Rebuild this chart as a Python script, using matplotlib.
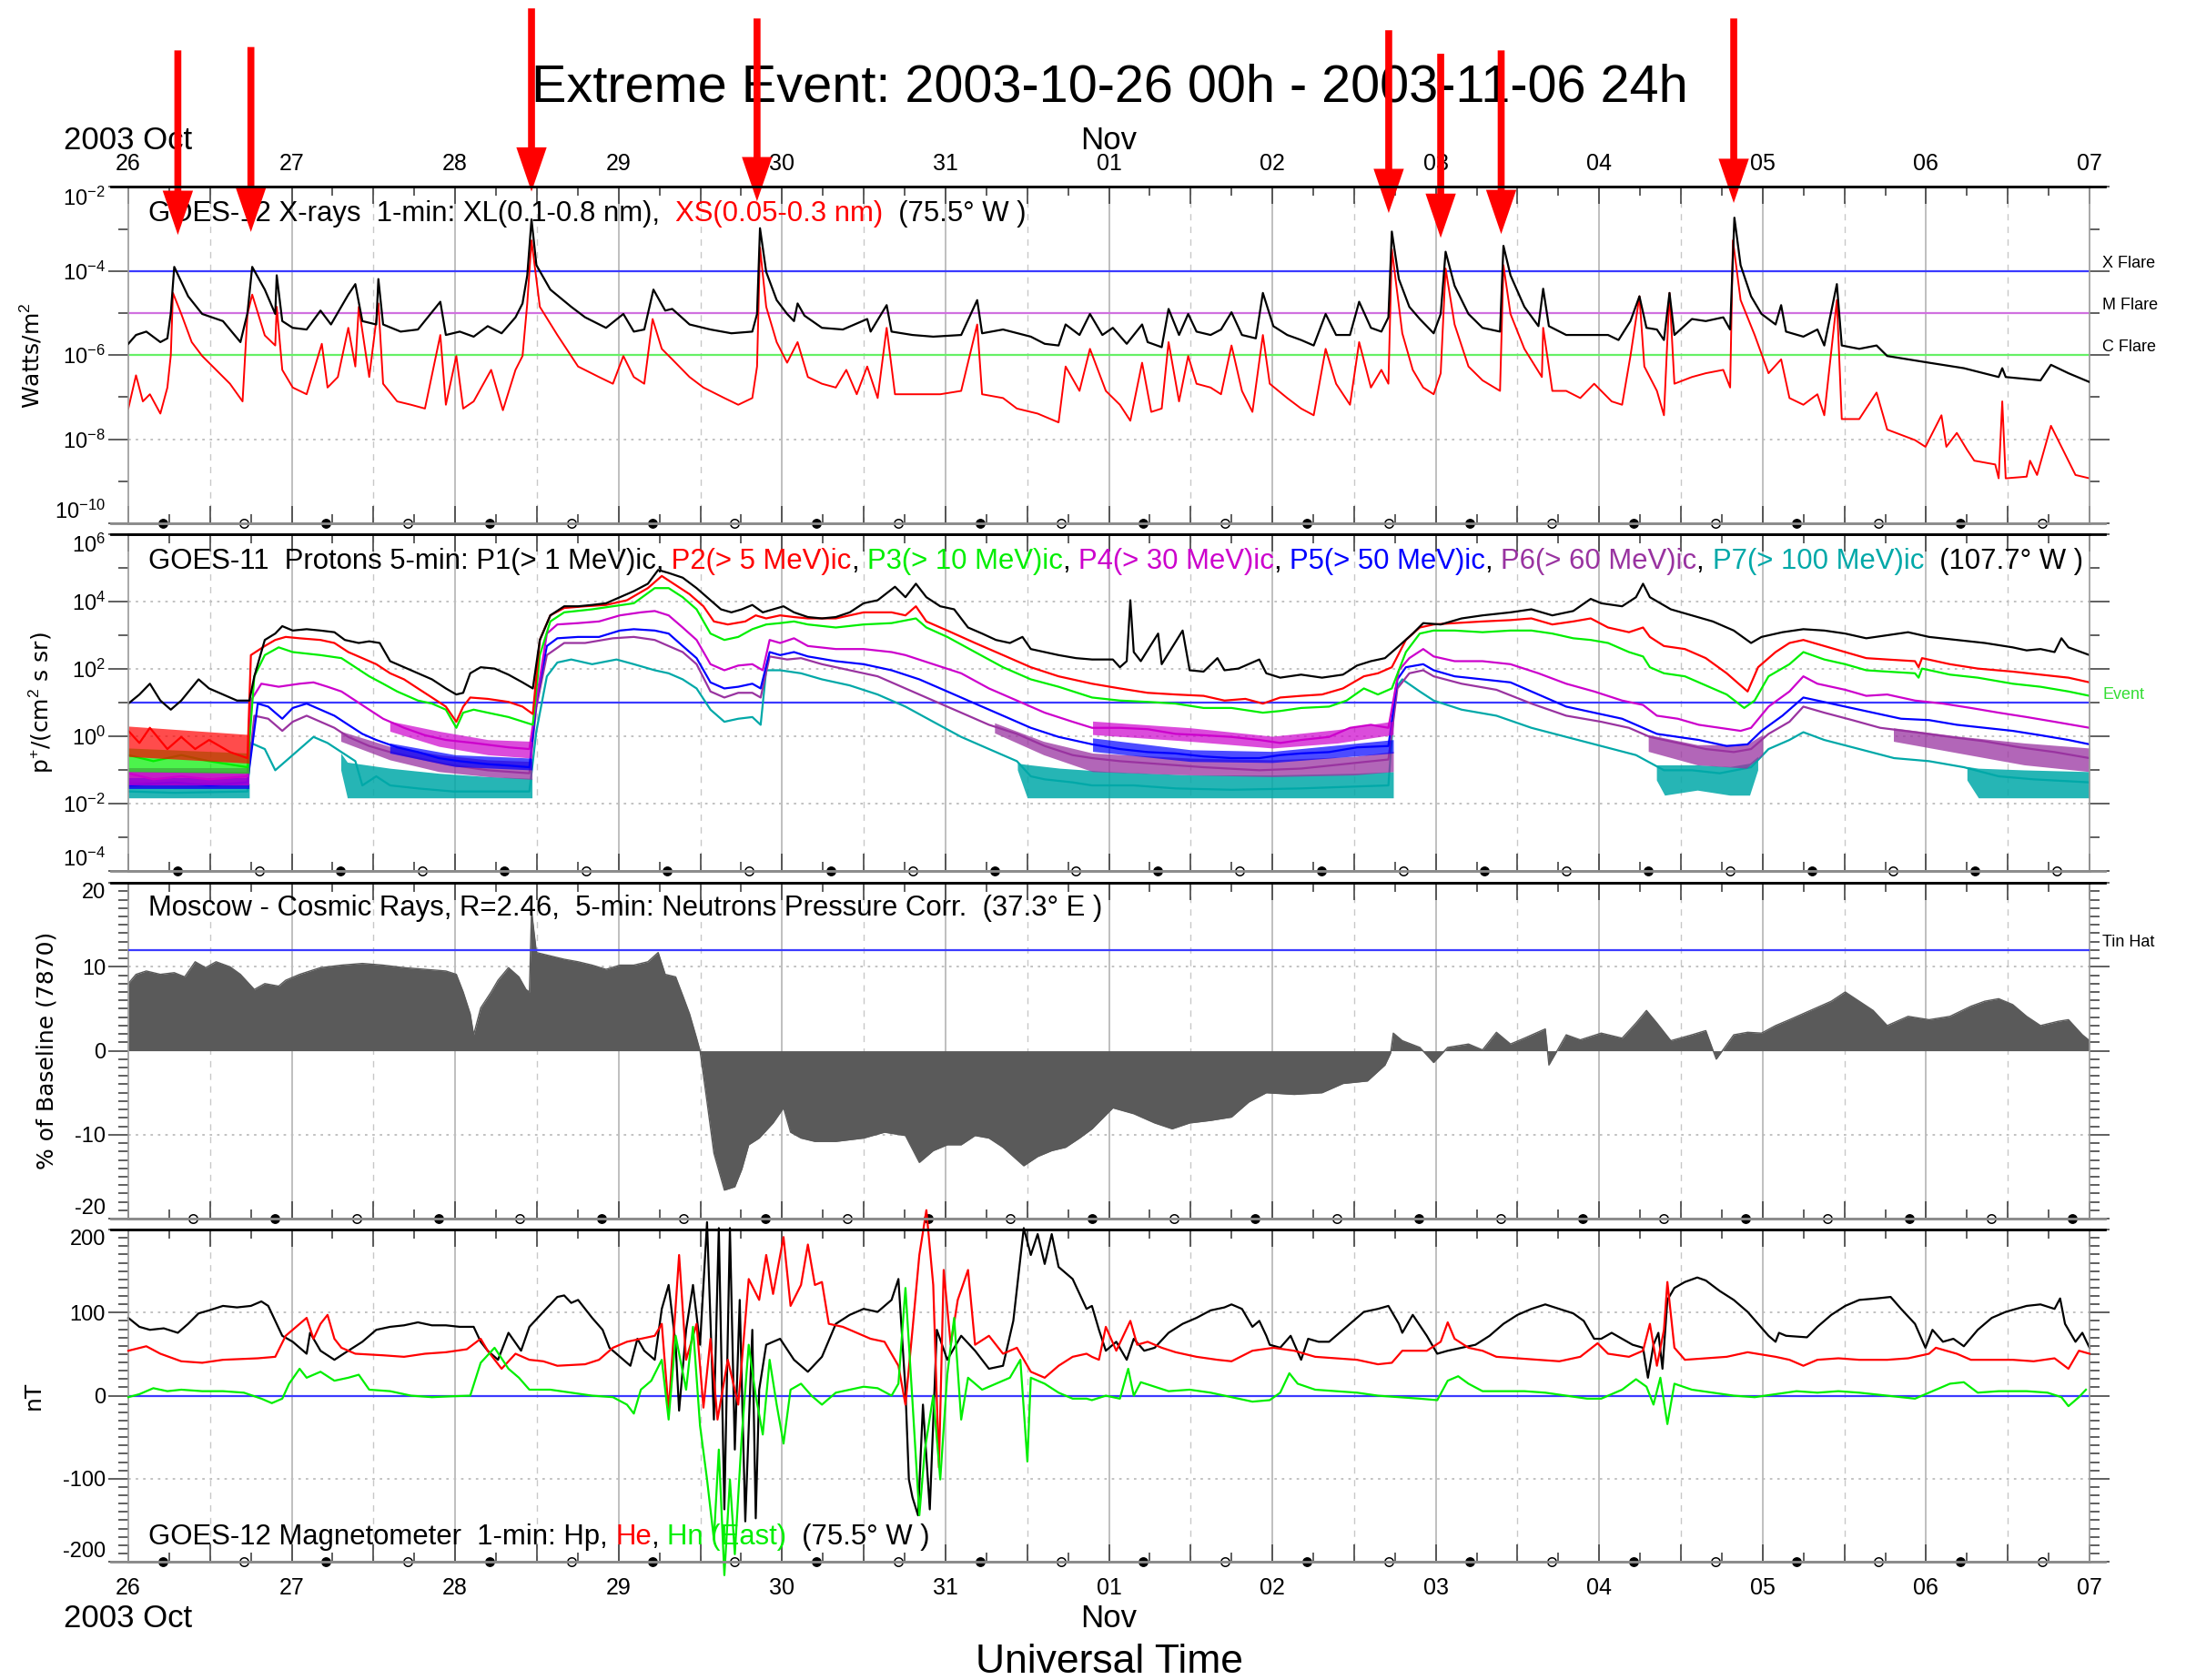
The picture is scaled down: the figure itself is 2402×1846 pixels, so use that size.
import numpy as np
import matplotlib.pyplot as plt
from matplotlib.lines import Line2D
from matplotlib.ticker import (FixedLocator, FixedFormatter, MultipleLocator,
                               NullFormatter, LogFormatterSciNotation)
from matplotlib.transforms import blended_transform_factory

plt.rcParams.update({
    'font.family': 'sans-serif',
    'font.sans-serif': ['Liberation Sans', 'DejaVu Sans'],
    'mathtext.fontset': 'custom',
    'mathtext.rm': 'Liberation Sans',
    'mathtext.it': 'Liberation Sans:italic',
    'axes.unicode_minus': False,
})

# time = days after 2003-10-26 00 UT
day_labels = ['26', '27', '28', '29', '30', '31', '01', '02', '03', '04', '05', '06', '07']

# ---------------- GOES-12 X-rays, log10(W/m^2) ----------------
xl_pts = [(0, -5.73), (0.047, -5.52), (0.11, -5.44), (0.196, -5.69), (0.239, -5.60), (0.26, -5.0),
          (0.281, -3.90), (0.366, -4.60), (0.452, -5.02), (0.579, -5.19), (0.686, -5.69), (0.729, -5.0),
          (0.758, -3.90), (0.835, -4.44), (0.899, -5.02), (0.908, -4.10), (0.942, -5.19), (1.006, -5.35),
          (1.091, -5.39), (1.176, -4.94), (1.24, -5.27), (1.346, -4.56), (1.389, -4.31), (1.432, -5.19),
          (1.517, -5.27), (1.53, -4.19), (1.559, -5.27), (1.666, -5.44), (1.772, -5.39), (1.909, -4.73),
          (1.943, -5.52), (2.028, -5.44), (2.113, -5.56), (2.199, -5.31), (2.284, -5.48), (2.369, -5.10),
          (2.412, -4.77), (2.441, -4.10), (2.467, -2.77), (2.497, -3.86), (2.582, -4.44), (2.71, -4.85),
          (2.795, -5.10), (2.923, -5.35), (3.029, -5.02), (3.093, -5.44), (3.157, -5.39), (3.213, -4.44),
          (3.285, -4.94), (3.328, -4.90), (3.434, -5.27), (3.562, -5.39), (3.69, -5.48), (3.818, -5.44),
          (3.847, -5.02), (3.865, -2.98), (3.903, -4.02), (3.967, -4.69), (4.031, -5.02), (4.073, -5.19),
          (4.095, -4.77), (4.137, -5.06), (4.244, -5.35), (4.372, -5.39), (4.521, -5.14), (4.542, -5.44),
          (4.64, -4.81), (4.67, -5.44), (4.798, -5.52), (4.925, -5.56), (5.096, -5.52), (5.194, -4.69),
          (5.224, -5.48), (5.352, -5.39), (5.522, -5.56), (5.607, -5.73), (5.692, -5.77), (5.735, -5.27),
          (5.82, -5.52), (5.884, -5.02), (5.96, -5.52), (6.024, -5.35), (6.109, -5.73), (6.203, -5.27),
          (6.237, -5.69), (6.323, -5.81), (6.365, -4.90), (6.429, -5.52), (6.485, -5.02), (6.536, -5.44),
          (6.622, -5.52), (6.686, -5.39), (6.75, -4.98), (6.814, -5.52), (6.899, -5.60), (6.942, -4.52),
          (7.006, -5.31), (7.091, -5.52), (7.176, -5.64), (7.253, -5.77), (7.326, -5.02), (7.39, -5.52),
          (7.475, -5.52), (7.531, -4.73), (7.603, -5.35), (7.667, -5.44), (7.71, -5.10), (7.731, -3.06),
          (7.774, -4.19), (7.838, -4.85), (7.902, -5.14), (7.987, -5.48), (8.03, -5.02), (8.06, -3.54),
          (8.115, -4.35), (8.2, -5.02), (8.286, -5.35), (8.393, -5.44), (8.414, -3.40), (8.457, -4.10),
          (8.542, -4.85), (8.628, -5.31), (8.657, -4.42), (8.692, -5.31), (8.798, -5.52), (8.926, -5.52),
          (9.054, -5.52), (9.118, -5.64), (9.191, -5.19), (9.246, -4.60), (9.289, -5.35), (9.353, -5.39),
          (9.396, -5.64), (9.43, -4.52), (9.46, -5.52), (9.567, -5.14), (9.652, -5.19), (9.759, -5.10),
          (9.801, -5.39), (9.827, -2.73), (9.865, -3.86), (9.929, -4.60), (9.993, -5.02), (10.079, -5.27),
          (10.113, -4.81), (10.143, -5.44), (10.249, -5.56), (10.335, -5.39), (10.377, -5.77), (10.454, -4.31),
          (10.484, -5.77), (10.591, -5.85), (10.697, -5.77), (10.762, -6.02), (11.018, -6.18), (11.231, -6.31),
          (11.444, -6.52), (11.466, -6.31), (11.487, -6.52), (11.7, -6.60), (11.764, -6.23), (11.871, -6.43),
          (12.0, -6.64)]

xs_pts = [(0, -7.27), (0.047, -6.48), (0.089, -7.10), (0.132, -6.93), (0.196, -7.39), (0.239, -6.77),
          (0.26, -6.0), (0.273, -4.52), (0.324, -5.02), (0.388, -5.69), (0.452, -6.02), (0.537, -6.35),
          (0.622, -6.68), (0.699, -7.10), (0.729, -5.02), (0.758, -4.56), (0.835, -5.53), (0.899, -5.77),
          (0.908, -4.85), (0.942, -6.35), (1.006, -6.77), (1.091, -6.93), (1.184, -5.73), (1.219, -6.77),
          (1.282, -6.52), (1.346, -5.35), (1.389, -6.27), (1.41, -4.85), (1.474, -6.52), (1.53, -4.77),
          (1.559, -6.68), (1.645, -7.10), (1.73, -7.18), (1.815, -7.27), (1.909, -5.52), (1.943, -7.18),
          (2.007, -6.02), (2.049, -7.27), (2.113, -7.10), (2.22, -6.35), (2.292, -7.31), (2.369, -6.35),
          (2.412, -6.02), (2.441, -4.77), (2.467, -3.27), (2.518, -4.85), (2.625, -5.52), (2.752, -6.27),
          (2.88, -6.52), (2.965, -6.68), (3.029, -6.02), (3.093, -6.52), (3.157, -6.68), (3.208, -5.14),
          (3.264, -5.85), (3.328, -6.10), (3.434, -6.52), (3.519, -6.77), (3.647, -7.02), (3.732, -7.18),
          (3.818, -7.02), (3.847, -6.27), (3.865, -3.44), (3.903, -4.85), (3.967, -5.69), (4.031, -6.18),
          (4.095, -5.69), (4.158, -6.52), (4.244, -6.68), (4.329, -6.77), (4.393, -6.35), (4.457, -6.93),
          (4.521, -6.27), (4.585, -7.02), (4.64, -5.35), (4.691, -6.93), (4.84, -6.93), (4.968, -6.93),
          (5.096, -6.85), (5.194, -5.27), (5.224, -6.93), (5.352, -7.02), (5.437, -7.27), (5.564, -7.39),
          (5.692, -7.60), (5.735, -6.27), (5.82, -6.85), (5.884, -5.85), (5.981, -6.85), (6.067, -7.18),
          (6.131, -7.56), (6.203, -6.18), (6.259, -7.35), (6.323, -7.27), (6.365, -5.69), (6.429, -7.10),
          (6.485, -6.02), (6.536, -6.68), (6.622, -6.77), (6.686, -6.93), (6.75, -5.77), (6.814, -6.85),
          (6.878, -7.35), (6.942, -5.52), (6.984, -6.68), (7.091, -7.02), (7.176, -7.27), (7.253, -7.43),
          (7.326, -5.85), (7.39, -6.68), (7.475, -7.18), (7.531, -5.69), (7.603, -6.77), (7.667, -6.35),
          (7.71, -6.68), (7.731, -3.48), (7.795, -5.48), (7.859, -6.35), (7.923, -6.77), (7.987, -6.93),
          (8.03, -6.43), (8.06, -3.94), (8.115, -5.27), (8.2, -6.27), (8.286, -6.60), (8.393, -6.85),
          (8.414, -3.86), (8.457, -5.02), (8.542, -5.85), (8.649, -6.52), (8.657, -5.35), (8.713, -6.85),
          (8.798, -6.85), (8.884, -7.02), (8.969, -6.68), (9.076, -7.10), (9.14, -7.18), (9.191, -6.02),
          (9.246, -4.60), (9.276, -6.27), (9.353, -6.85), (9.396, -7.43), (9.43, -4.52), (9.46, -6.68),
          (9.567, -6.52), (9.652, -6.43), (9.759, -6.35), (9.801, -6.77), (9.818, -3.27), (9.865, -4.69),
          (9.951, -5.52), (10.036, -6.43), (10.113, -6.10), (10.164, -7.02), (10.249, -7.18), (10.335, -6.93),
          (10.377, -7.43), (10.454, -4.69), (10.484, -7.52), (10.591, -7.52), (10.697, -6.89), (10.762, -7.77),
          (10.932, -8.02), (10.996, -8.18), (11.094, -7.43), (11.124, -8.18), (11.188, -7.85), (11.252, -8.26),
          (11.295, -8.51), (11.423, -8.60), (11.444, -8.93), (11.466, -7.10), (11.487, -8.93), (11.615, -8.89),
          (11.636, -8.51), (11.679, -8.85), (11.764, -7.68), (11.85, -8.35), (11.914, -8.85), (12.0, -8.93)]

flare_names = ['X Flare', 'M Flare', 'C Flare']
flare_flux = [1e-4, 1e-5, 1e-6]

# flares pointed at by the red arrows: time, log10 flux of arrow tip
arrow_t = [0.303, 0.75, 2.467, 3.847, 7.712, 8.03, 8.40, 9.823]
arrow_tip_log = [-3.14, -3.07, -2.11, -2.34, -2.62, -3.21, -3.12, -2.38]

# ---------------- GOES-11 protons, log10(p+/(cm^2 s sr)) ----------------
p1_pts = [(0, 0.97), (0.068, 1.24), (0.132, 1.56), (0.196, 1.06), (0.26, 0.79), (0.324, 1.06), (0.43, 1.69),
          (0.494, 1.42), (0.579, 1.24), (0.665, 1.06), (0.741, 1.06), (0.771, 1.78), (0.835, 2.86), (0.899, 3.05),
          (0.942, 3.27), (1.006, 3.14), (1.091, 3.18), (1.176, 3.14), (1.261, 3.09), (1.325, 2.86), (1.41, 2.77),
          (1.474, 2.82), (1.538, 2.77), (1.602, 2.23), (1.687, 2.05), (1.772, 1.87), (1.858, 1.69), (1.943, 1.42),
          (2.007, 1.24), (2.049, 1.29), (2.092, 1.87), (2.156, 2.05), (2.241, 2.01), (2.326, 1.83), (2.412, 1.60),
          (2.475, 1.42), (2.518, 2.86), (2.582, 3.59), (2.667, 3.86), (2.752, 3.86), (2.838, 3.90), (2.923, 3.95),
          (3.008, 4.13), (3.093, 4.31), (3.179, 4.53), (3.242, 4.94), (3.306, 4.85), (3.392, 4.71), (3.477, 4.40),
          (3.562, 4.04), (3.626, 3.77), (3.69, 3.68), (3.754, 3.77), (3.818, 3.90), (3.882, 3.68), (3.945, 3.77),
          (4.009, 3.86), (4.073, 3.68), (4.158, 3.54), (4.244, 3.50), (4.329, 3.54), (4.414, 3.68), (4.499, 3.95),
          (4.585, 4.04), (4.691, 4.44), (4.755, 4.13), (4.819, 4.53), (4.883, 4.13), (4.968, 3.86), (5.053, 3.77),
          (5.138, 3.23), (5.224, 3.05), (5.309, 2.86), (5.394, 2.77), (5.471, 2.95), (5.522, 2.59), (5.607, 2.50),
          (5.692, 2.41), (5.799, 2.32), (5.897, 2.28), (6.024, 2.28), (6.067, 2.05), (6.109, 2.23), (6.131, 4.04),
          (6.152, 2.50), (6.195, 2.23), (6.301, 3.05), (6.323, 2.14), (6.451, 3.14), (6.494, 1.96), (6.579, 1.92),
          (6.664, 2.32), (6.707, 1.96), (6.792, 2.01), (6.92, 2.28), (6.963, 1.87), (7.048, 1.74), (7.176, 1.83),
          (7.304, 1.74), (7.432, 1.83), (7.518, 2.10), (7.603, 2.23), (7.689, 2.32), (7.774, 2.68), (7.859, 3.05),
          (7.923, 3.36), (8.03, 3.32), (8.158, 3.50), (8.286, 3.59), (8.457, 3.68), (8.585, 3.77), (8.713, 3.59),
          (8.841, 3.72), (8.948, 4.08), (9.012, 3.95), (9.14, 3.86), (9.225, 4.13), (9.268, 4.53), (9.31, 4.13),
          (9.438, 3.77), (9.567, 3.59), (9.695, 3.41), (9.823, 3.14), (9.929, 2.77), (9.993, 2.95), (10.121, 3.09),
          (10.249, 3.18), (10.377, 3.14), (10.505, 3.05), (10.634, 2.91), (10.762, 3.0), (10.89, 3.09), (11.018, 2.95),
          (11.188, 2.86), (11.359, 2.77), (11.53, 2.64), (11.615, 2.55), (11.7, 2.59), (11.786, 2.50), (11.828, 2.91),
          (11.871, 2.64), (12.0, 2.41)]

p2_pts = [(0, 0.16), (0.068, -0.20), (0.132, 0.25), (0.239, -0.38), (0.324, -0.02), (0.409, -0.38), (0.494, -0.11),
          (0.622, -0.47), (0.729, -0.65), (0.75, 2.41), (0.835, 2.68), (0.899, 2.86), (0.963, 2.95), (1.048, 2.91),
          (1.176, 2.86), (1.261, 2.77), (1.346, 2.50), (1.432, 2.32), (1.517, 2.14), (1.602, 1.87), (1.687, 1.69),
          (1.772, 1.42), (1.858, 1.15), (1.943, 0.88), (2.007, 0.43), (2.049, 0.88), (2.092, 1.15), (2.199, 1.11),
          (2.326, 1.02), (2.412, 0.88), (2.475, 0.66), (2.518, 2.86), (2.582, 3.59), (2.667, 3.81), (2.795, 3.86),
          (2.923, 3.90), (3.051, 4.04), (3.179, 4.40), (3.264, 4.76), (3.349, 4.49), (3.434, 4.22), (3.519, 3.86),
          (3.583, 3.41), (3.668, 3.32), (3.775, 3.41), (3.839, 3.59), (3.903, 3.50), (3.988, 3.59), (4.073, 3.54),
          (4.158, 3.50), (4.329, 3.50), (4.499, 3.68), (4.67, 3.68), (4.755, 3.59), (4.819, 3.86), (4.883, 3.41),
          (5.011, 3.14), (5.181, 2.77), (5.352, 2.41), (5.522, 2.05), (5.692, 1.78), (5.897, 1.56), (6.067, 1.42),
          (6.237, 1.29), (6.408, 1.24), (6.579, 1.20), (6.707, 1.06), (6.835, 1.11), (6.942, 0.97), (7.048, 1.15),
          (7.176, 1.20), (7.304, 1.24), (7.432, 1.42), (7.56, 1.78), (7.646, 1.87), (7.731, 2.05), (7.817, 2.86),
          (7.902, 3.23), (7.987, 3.32), (8.115, 3.36), (8.286, 3.41), (8.457, 3.45), (8.585, 3.50), (8.713, 3.32),
          (8.841, 3.41), (8.948, 3.50), (9.054, 3.23), (9.182, 3.09), (9.268, 3.23), (9.31, 2.95), (9.396, 2.68),
          (9.524, 2.59), (9.652, 2.32), (9.78, 1.87), (9.865, 1.51), (9.908, 1.33), (9.972, 2.05), (10.079, 2.50),
          (10.164, 2.77), (10.249, 2.86), (10.377, 2.68), (10.505, 2.50), (10.634, 2.32), (10.762, 2.28),
          (10.932, 2.23), (10.954, 2.05), (10.975, 2.32), (11.146, 2.14), (11.316, 2.01), (11.53, 1.92),
          (11.7, 1.83), (11.871, 1.74), (12.0, 1.60)]

p3_pts = [(0, -0.56), (0.153, -0.74), (0.324, -0.56), (0.494, -0.74), (0.729, -0.92), (0.771, 1.78), (0.835, 2.41),
          (0.92, 2.64), (1.006, 2.50), (1.176, 2.41), (1.304, 2.32), (1.389, 2.05), (1.474, 1.78), (1.559, 1.56),
          (1.645, 1.33), (1.772, 1.06), (1.858, 0.97), (1.943, 0.79), (2.007, 0.25), (2.049, 0.70), (2.113, 0.79),
          (2.199, 0.70), (2.326, 0.57), (2.475, 0.34), (2.518, 2.41), (2.582, 3.41), (2.667, 3.68), (2.838, 3.77),
          (2.965, 3.86), (3.093, 3.95), (3.221, 4.40), (3.306, 4.40), (3.392, 4.13), (3.477, 3.77), (3.562, 3.05),
          (3.647, 2.86), (3.732, 2.95), (3.818, 3.18), (3.903, 3.32), (3.988, 3.36), (4.073, 3.41), (4.158, 3.32),
          (4.329, 3.23), (4.499, 3.32), (4.67, 3.36), (4.819, 3.50), (4.883, 3.23), (5.011, 2.95), (5.181, 2.50),
          (5.352, 2.05), (5.522, 1.69), (5.692, 1.47), (5.897, 1.15), (6.067, 1.06), (6.237, 1.02), (6.408, 0.97),
          (6.579, 0.84), (6.75, 0.84), (6.942, 0.70), (7.048, 0.75), (7.176, 0.84), (7.347, 0.88), (7.454, 1.06),
          (7.56, 1.42), (7.646, 1.24), (7.731, 1.42), (7.817, 2.50), (7.902, 3.05), (7.987, 3.14), (8.115, 3.14),
          (8.286, 3.09), (8.457, 3.14), (8.585, 3.14), (8.713, 3.05), (8.841, 2.91), (8.948, 2.86), (9.054, 2.77),
          (9.182, 2.50), (9.268, 2.37), (9.31, 2.05), (9.396, 1.87), (9.524, 1.78), (9.652, 1.51), (9.78, 1.24),
          (9.887, 0.84), (9.951, 1.06), (10.036, 1.78), (10.164, 2.14), (10.249, 2.50), (10.377, 2.28),
          (10.505, 2.14), (10.634, 1.96), (10.762, 1.92), (10.932, 1.87), (10.954, 1.74), (10.975, 2.01),
          (11.146, 1.83), (11.316, 1.74), (11.53, 1.56), (11.7, 1.47), (11.871, 1.33), (12.0, 1.20)]

p4_pts = [(0, -1.10), (0.153, -1.28), (0.324, -1.19), (0.494, -1.28), (0.729, -1.19), (0.75, 1.06), (0.814, 1.56),
          (0.92, 1.47), (1.048, 1.56), (1.133, 1.60), (1.219, 1.47), (1.304, 1.33), (1.389, 1.06), (1.474, 0.79),
          (1.559, 0.52), (1.687, 0.25), (1.815, 0.03), (1.943, -0.11), (2.113, -0.20), (2.326, -0.33), (2.454, -0.38),
          (2.497, 1.06), (2.561, 3.05), (2.625, 3.32), (2.752, 3.36), (2.88, 3.41), (3.008, 3.59), (3.136, 3.68),
          (3.221, 3.72), (3.306, 3.59), (3.392, 3.23), (3.477, 2.86), (3.562, 2.14), (3.647, 1.96), (3.732, 2.10),
          (3.818, 2.14), (3.882, 1.96), (3.924, 2.86), (3.988, 2.77), (4.073, 2.91), (4.158, 2.68), (4.329, 2.59),
          (4.499, 2.59), (4.67, 2.50), (4.755, 2.41), (4.925, 2.14), (5.096, 1.87), (5.266, 1.42), (5.437, 1.06),
          (5.607, 0.70), (5.778, 0.43), (5.897, 0.25), (6.067, 0.25), (6.237, 0.21), (6.408, 0.07), (6.579, 0.03),
          (6.75, -0.02), (6.92, -0.11), (7.048, -0.20), (7.176, -0.11), (7.347, -0.02), (7.475, 0.25), (7.603, 0.34),
          (7.71, 0.25), (7.774, 1.96), (7.838, 2.32), (7.923, 2.59), (7.987, 2.37), (8.115, 2.23), (8.286, 2.23),
          (8.457, 2.14), (8.628, 1.87), (8.798, 1.56), (8.969, 1.33), (9.14, 1.06), (9.268, 0.93), (9.353, 0.61),
          (9.481, 0.52), (9.609, 0.34), (9.737, 0.25), (9.865, 0.16), (9.929, 0.25), (10.036, 0.88), (10.164, 1.33),
          (10.249, 1.78), (10.335, 1.56), (10.505, 1.38), (10.634, 1.20), (10.762, 1.24), (10.932, 1.06),
          (11.103, 0.97), (11.274, 0.84), (11.444, 0.70), (11.615, 0.57), (11.786, 0.43), (12.0, 0.25)]

p5_pts = [(0, -1.46), (0.281, -1.37), (0.494, -1.46), (0.729, -1.37), (0.792, 0.97), (0.856, 0.88), (0.942, 0.52),
          (1.006, 0.84), (1.091, 0.97), (1.176, 0.79), (1.261, 0.61), (1.346, 0.34), (1.432, 0.07), (1.517, -0.11),
          (1.645, -0.33), (1.772, -0.47), (1.9, -0.65), (2.028, -0.74), (2.199, -0.83), (2.326, -0.87), (2.454, -0.92),
          (2.497, 1.06), (2.561, 2.68), (2.625, 2.91), (2.752, 2.95), (2.88, 2.95), (3.008, 3.14), (3.093, 3.18),
          (3.221, 3.14), (3.306, 3.05), (3.392, 2.68), (3.477, 2.32), (3.562, 1.60), (3.647, 1.42), (3.732, 1.47),
          (3.818, 1.56), (3.869, 1.42), (3.924, 2.50), (3.988, 2.41), (4.073, 2.50), (4.158, 2.37), (4.329, 2.23),
          (4.499, 2.14), (4.67, 1.96), (4.84, 1.69), (5.011, 1.33), (5.181, 0.97), (5.352, 0.61), (5.522, 0.25),
          (5.692, -0.02), (5.897, -0.24), (6.067, -0.38), (6.237, -0.47), (6.408, -0.51), (6.579, -0.60),
          (6.75, -0.65), (6.92, -0.65), (7.048, -0.56), (7.176, -0.51), (7.347, -0.47), (7.518, -0.33), (7.71, -0.29),
          (7.765, 1.69), (7.817, 2.05), (7.923, 2.14), (7.987, 1.96), (8.115, 1.78), (8.286, 1.69), (8.457, 1.60),
          (8.628, 1.24), (8.798, 0.88), (8.969, 0.70), (9.14, 0.52), (9.268, 0.25), (9.353, 0.07), (9.481, -0.02),
          (9.609, -0.11), (9.78, -0.29), (9.908, -0.24), (9.993, 0.16), (10.121, 0.61), (10.249, 1.15),
          (10.335, 1.06), (10.505, 0.88), (10.676, 0.70), (10.847, 0.52), (11.018, 0.48), (11.188, 0.34),
          (11.359, 0.25), (11.53, 0.16), (11.7, 0.03), (11.871, -0.11), (12.0, -0.24)]

p6_pts = [(0, -1.37), (0.324, -1.41), (0.729, -1.37), (0.771, 0.61), (0.856, 0.52), (0.942, 0.16), (1.006, 0.43),
          (1.091, 0.61), (1.176, 0.43), (1.261, 0.25), (1.346, -0.02), (1.474, -0.29), (1.602, -0.47), (1.772, -0.65),
          (1.943, -0.83), (2.199, -1.01), (2.454, -1.10), (2.497, 0.88), (2.561, 2.41), (2.667, 2.77), (2.795, 2.77),
          (2.965, 2.91), (3.093, 2.95), (3.221, 2.86), (3.306, 2.68), (3.392, 2.50), (3.477, 2.14), (3.562, 1.33),
          (3.647, 1.15), (3.732, 1.29), (3.818, 1.29), (3.869, 1.15), (3.924, 2.37), (4.031, 2.28), (4.116, 2.32),
          (4.244, 2.14), (4.414, 1.96), (4.585, 1.78), (4.755, 1.42), (4.925, 1.06), (5.096, 0.70), (5.266, 0.34),
          (5.437, 0.07), (5.607, -0.29), (5.778, -0.56), (5.897, -0.65), (6.067, -0.74), (6.323, -0.83),
          (6.579, -0.92), (6.92, -1.01), (7.176, -0.96), (7.432, -0.83), (7.71, -0.69), (7.765, 1.42), (7.838, 1.87),
          (7.923, 1.96), (7.987, 1.78), (8.158, 1.56), (8.371, 1.38), (8.585, 0.97), (8.798, 0.61), (9.012, 0.43),
          (9.182, 0.25), (9.31, -0.02), (9.481, -0.20), (9.652, -0.38), (9.823, -0.47), (9.929, -0.38),
          (10.036, 0.07), (10.164, 0.43), (10.249, 0.88), (10.377, 0.70), (10.548, 0.48), (10.719, 0.25),
          (10.932, 0.12), (11.146, -0.02), (11.359, -0.15), (11.572, -0.33), (11.786, -0.47), (12.0, -0.65)]

p7_pts = [(0, -1.64), (0.281, -1.68), (0.729, -1.64), (0.75, -0.20), (0.835, -0.38), (0.899, -1.01), (0.963, -0.74),
          (1.048, -0.38), (1.133, -0.02), (1.219, -0.20), (1.304, -0.47), (1.389, -0.74), (1.432, -1.46),
          (1.517, -1.19), (1.602, -1.46), (1.772, -1.55), (1.986, -1.64), (2.199, -1.64), (2.454, -1.64),
          (2.497, 0.16), (2.561, 1.78), (2.625, 2.19), (2.71, 2.28), (2.838, 2.14), (2.987, 2.28), (3.093, 2.14),
          (3.221, 1.96), (3.306, 1.87), (3.392, 1.69), (3.477, 1.42), (3.562, 0.79), (3.647, 0.43), (3.732, 0.52),
          (3.818, 0.57), (3.869, 0.34), (3.903, 1.96), (3.988, 1.96), (4.116, 1.87), (4.244, 1.69), (4.414, 1.51),
          (4.585, 1.24), (4.755, 0.88), (4.925, 0.43), (5.096, -0.02), (5.266, -0.38), (5.437, -0.74),
          (5.522, -1.19), (5.607, -1.28), (5.778, -1.37), (5.897, -1.46), (6.152, -1.46), (6.408, -1.55),
          (6.75, -1.59), (7.176, -1.55), (7.71, -1.46), (7.753, 1.42), (7.795, 1.69), (7.902, 1.33), (7.987, 1.06),
          (8.158, 0.79), (8.371, 0.61), (8.585, 0.25), (8.798, -0.02), (9.012, -0.29), (9.225, -0.56),
          (9.396, -1.01), (9.567, -1.01), (9.737, -1.10), (9.929, -0.92), (10.036, -0.38), (10.164, -0.11),
          (10.249, 0.12), (10.377, -0.11), (10.591, -0.38), (10.804, -0.65), (11.018, -0.74), (11.231, -0.92),
          (11.444, -1.19), (11.658, -1.28), (12.0, -1.37)]

# spread of the noisy low-count stretches: (time, log10 low, log10 high)
p1_noise = []
p2_noise = [[(0, -0.60, 0.30), (0.74, -0.80, 0.05)]]
p3_noise = [[(0, -1.05, -0.35), (0.74, -1.10, -0.50)]]
p4_noise = [[(0, -1.45, -0.95), (0.74, -1.45, -0.95)],
            [(1.6, 0.15, 0.45), (1.9, -0.30, 0.15), (2.2, -0.55, -0.10), (2.47, -0.65, -0.15)],
            [(5.9, 0.05, 0.45), (6.5, -0.15, 0.25), (7.0, -0.35, 0.0), (7.4, -0.20, 0.20), (7.74, 0.05, 0.45)]]
p5_noise = [[(0, -1.58, -1.25), (0.74, -1.58, -1.25)],
            [(1.6, -0.50, -0.20), (2.0, -0.90, -0.55), (2.47, -1.0, -0.65)],
            [(5.9, -0.45, -0.05), (6.5, -0.75, -0.40), (7.0, -0.78, -0.45), (7.74, -0.50, -0.10)]]
p6_noise = [[(0, -1.55, -1.05), (0.74, -1.55, -1.05)],
            [(1.3, -0.15, 0.15), (1.6, -0.70, -0.30), (1.9, -1.05, -0.55), (2.2, -1.20, -0.70), (2.47, -1.28, -0.75)],
            [(5.3, 0.10, 0.40), (5.6, -0.55, -0.15), (5.9, -1.05, -0.50), (6.5, -1.15, -0.65), (7.0, -1.20, -0.70),
             (7.5, -1.15, -0.60), (7.74, -1.05, -0.45)],
            [(9.3, -0.45, 0.05), (9.6, -0.85, -0.25), (9.9, -0.95, -0.25), (10.0, -0.55, 0.05)],
            [(10.8, -0.15, 0.25), (11.2, -0.50, 0.0), (11.6, -0.85, -0.20), (12.0, -1.05, -0.35)]]
p7_noise = [[(0, -1.83, -1.38), (0.74, -1.83, -1.40)],
            [(1.3, -1.0, -0.5), (1.34, -1.83, -0.77), (1.6, -1.83, -0.95), (1.9, -1.83, -1.10), (2.2, -1.83, -1.20),
             (2.47, -1.83, -1.25)],
            [(5.44, -1.0, -0.8), (5.5, -1.83, -0.84), (5.7, -1.83, -0.95), (6.0, -1.83, -1.05), (6.5, -1.83, -1.15),
             (7.0, -1.83, -1.15), (7.5, -1.83, -1.10), (7.74, -1.83, -1.05)],
            [(9.35, -1.30, -0.85), (9.4, -1.75, -0.85), (9.6, -1.60, -0.85), (9.8, -1.75, -0.90), (9.92, -1.75, -0.80),
             (9.97, -1.00, -0.60)],
            [(11.25, -1.30, -0.90), (11.32, -1.83, -0.95), (11.6, -1.83, -1.00), (12.0, -1.83, -1.05)]]

proton_colors = ['black', '#ff0000', '#00ee00', '#cc00cc', '#0000ff', '#9933a0', '#00a8a8']
noise_alpha = [0.6, 0.7, 0.7, 0.7, 0.7, 0.75, 0.85]
event_level = 10.0

# ---------------- Moscow neutron monitor, % of baseline ----------------
cr_pts = [(0, 8.0), (0.047, 9.1), (0.11, 9.5), (0.196, 9.1), (0.281, 9.3), (0.345, 8.8), (0.409, 10.6),
          (0.473, 9.9), (0.537, 10.6), (0.622, 10.0), (0.686, 9.1), (0.771, 7.3), (0.835, 8.0), (0.92, 7.7),
          (0.963, 8.4), (1.048, 9.1), (1.176, 9.9), (1.304, 10.2), (1.432, 10.4), (1.559, 10.2), (1.687, 9.9),
          (1.815, 9.7), (1.943, 9.5), (2.007, 9.1), (2.049, 7.0), (2.092, 4.4), (2.113, 1.9), (2.156, 5.1),
          (2.22, 7.0), (2.262, 8.4), (2.326, 9.9), (2.39, 8.8), (2.433, 7.3), (2.454, 7.0), (2.467, 16.7),
          (2.497, 11.7), (2.582, 11.3), (2.667, 10.9), (2.752, 10.6), (2.838, 10.2), (2.923, 9.7), (3.008, 10.2),
          (3.093, 10.2), (3.179, 10.6), (3.242, 11.7), (3.285, 9.1), (3.349, 8.8), (3.392, 6.6), (3.434, 4.4),
          (3.477, 1.5), (3.498, 0.0), (3.541, -6.1), (3.583, -12.2), (3.647, -16.6), (3.711, -16.2),
          (3.754, -14.1), (3.796, -11.2), (3.86, -10.4), (3.945, -8.6), (4.009, -6.8), (4.052, -9.7),
          (4.116, -10.4), (4.201, -10.8), (4.329, -10.8), (4.499, -10.4), (4.627, -9.7), (4.755, -10.1),
          (4.84, -13.3), (4.925, -11.9), (5.011, -11.2), (5.096, -11.2), (5.181, -10.1), (5.266, -10.4),
          (5.352, -11.5), (5.479, -13.7), (5.564, -12.6), (5.65, -11.9), (5.735, -11.5), (5.82, -10.4),
          (5.897, -9.3), (6.024, -6.8), (6.152, -7.5), (6.28, -8.6), (6.387, -9.3), (6.494, -8.6), (6.622, -8.3),
          (6.75, -7.9), (6.856, -6.1), (6.963, -5.0), (7.134, -5.2), (7.304, -5.0), (7.432, -3.9), (7.582, -3.6),
          (7.689, -1.7), (7.723, -0.3), (7.74, 2.1), (7.795, 1.2), (7.902, 0.4), (7.987, -1.4), (8.073, 0.4),
          (8.2, 0.8), (8.286, 0.1), (8.371, 2.2), (8.457, 0.8), (8.542, 1.5), (8.67, 2.6), (8.692, -1.7),
          (8.798, 1.9), (8.884, 1.3), (9.012, 2.1), (9.14, 1.5), (9.225, 3.3), (9.289, 4.8), (9.353, 3.3),
          (9.438, 1.2), (9.567, 1.9), (9.652, 2.4), (9.716, -1.0), (9.823, 1.9), (9.908, 2.2), (9.993, 2.1),
          (10.079, 3.0), (10.164, 3.7), (10.292, 4.8), (10.42, 5.9), (10.505, 7.0), (10.591, 5.9), (10.676, 4.8),
          (10.762, 3.0), (10.89, 4.1), (11.018, 3.7), (11.146, 4.1), (11.274, 5.3), (11.359, 5.9), (11.444, 6.2),
          (11.53, 5.5), (11.615, 4.1), (11.7, 3.0), (11.807, 3.5), (11.871, 3.7), (11.956, 1.9), (12.0, 1.2)]
tin_hat = 12.0

# ---------------- GOES-12 magnetometer, nT ----------------
hp_pts = [(0, 93.7), (0.068, 82.9), (0.132, 79.3), (0.217, 81.1), (0.303, 75.7), (0.366, 86.5), (0.43, 99.1),
          (0.494, 102.7), (0.579, 108.1), (0.665, 106.3), (0.75, 108.1), (0.814, 113.5), (0.856, 108.1),
          (0.899, 90.1), (0.942, 72.1), (1.006, 64.9), (1.091, 50.5), (1.112, 75.7), (1.176, 54.1), (1.261, 43.2),
          (1.346, 54.1), (1.432, 64.9), (1.517, 79.3), (1.602, 82.9), (1.687, 84.7), (1.772, 88.3), (1.858, 84.7),
          (1.943, 84.7), (2.028, 82.9), (2.113, 82.9), (2.156, 64.9), (2.199, 54.1), (2.262, 43.2), (2.326, 75.7),
          (2.403, 54.1), (2.454, 82.9), (2.539, 100.9), (2.625, 118.9), (2.667, 120.7), (2.71, 111.7),
          (2.752, 115.3), (2.838, 93.7), (2.902, 79.3), (2.944, 57.7), (3.008, 46.8), (3.072, 36.0), (3.115, 68.5),
          (3.157, 54.1), (3.221, 43.2), (3.264, 104.5), (3.306, 133.3), (3.349, 61.3), (3.37, -18.0), (3.413, 79.3),
          (3.455, 133.3), (3.498, 61.3), (3.541, 209.0), (3.583, -28.8), (3.613, 201.8), (3.647, -136.9),
          (3.681, 201.8), (3.711, -64.9), (3.741, 115.3), (3.775, -151.4), (3.818, 79.3), (3.839, -147.7),
          (3.86, 7.2), (3.903, 61.3), (3.988, 68.5), (4.073, 43.2), (4.158, 28.8), (4.244, 46.8), (4.329, 86.5),
          (4.414, 97.3), (4.499, 104.5), (4.585, 100.9), (4.67, 115.3), (4.712, 140.5), (4.755, 7.2),
          (4.776, -100.9), (4.798, -122.5), (4.832, -144.1), (4.862, -10.8), (4.904, -136.9), (4.947, 79.3),
          (5.011, 43.2), (5.096, 72.1), (5.181, 54.1), (5.266, 32.4), (5.352, 36.0), (5.415, 90.1), (5.479, 201.8),
          (5.522, 169.4), (5.564, 194.6), (5.607, 158.6), (5.65, 194.6), (5.692, 155.0), (5.778, 140.5),
          (5.863, 104.5), (5.896, 108.1), (5.939, 79.3), (5.981, 54.1), (6.045, 64.9), (6.109, 43.2), (6.152, 68.5),
          (6.216, 54.1), (6.28, 57.7), (6.365, 75.7), (6.451, 86.5), (6.536, 93.7), (6.622, 102.7), (6.707, 106.3),
          (6.75, 109.9), (6.814, 104.5), (6.878, 82.9), (6.92, 90.1), (6.963, 72.1), (6.984, 61.3), (7.048, 57.7),
          (7.112, 72.1), (7.176, 43.2), (7.219, 68.5), (7.283, 64.9), (7.347, 64.9), (7.411, 75.7), (7.475, 86.5),
          (7.56, 100.9), (7.646, 104.5), (7.71, 108.1), (7.774, 86.5), (7.795, 75.7), (7.859, 97.3), (7.945, 72.1),
          (8.009, 50.5), (8.073, 54.1), (8.158, 57.7), (8.243, 61.3), (8.329, 72.1), (8.414, 86.5), (8.5, 97.3),
          (8.585, 104.5), (8.67, 109.9), (8.756, 104.5), (8.841, 99.1), (8.905, 90.1), (8.969, 68.5),
          (9.012, 68.5), (9.076, 75.7), (9.14, 68.5), (9.204, 61.3), (9.268, 57.7), (9.298, 21.6), (9.332, 61.3),
          (9.362, 75.7), (9.387, 32.4), (9.417, 115.3), (9.46, 129.7), (9.524, 136.9), (9.6, 142.3),
          (9.652, 138.7), (9.737, 126.1), (9.823, 115.3), (9.908, 100.9), (9.972, 86.5), (10.036, 72.1),
          (10.079, 64.9), (10.1, 75.7), (10.143, 72.1), (10.271, 70.3), (10.335, 82.9), (10.42, 97.3),
          (10.505, 108.1), (10.591, 115.3), (10.697, 117.1), (10.783, 118.9), (10.847, 104.5), (10.932, 86.5),
          (10.996, 57.7), (11.039, 79.3), (11.103, 64.9), (11.167, 68.5), (11.231, 59.5), (11.316, 79.3),
          (11.402, 93.7), (11.487, 100.9), (11.615, 108.1), (11.7, 109.9), (11.786, 104.5), (11.82, 117.1),
          (11.85, 86.5), (11.914, 64.9), (11.956, 75.7), (12.0, 57.7)]

he_pts = [(0, 54.1), (0.11, 59.5), (0.196, 50.5), (0.324, 41.4), (0.452, 39.6), (0.579, 43.2), (0.792, 45.0),
          (0.899, 46.8), (0.963, 72.1), (1.048, 86.5), (1.091, 93.7), (1.133, 68.5), (1.176, 86.5), (1.219, 97.3),
          (1.261, 68.5), (1.304, 57.7), (1.389, 50.5), (1.559, 48.6), (1.687, 46.8), (1.815, 50.5), (1.943, 52.3),
          (2.071, 55.9), (2.156, 68.5), (2.199, 54.1), (2.284, 32.4), (2.369, 50.5), (2.454, 43.2), (2.539, 41.4),
          (2.625, 36.0), (2.795, 37.8), (2.88, 43.2), (2.965, 57.7), (3.051, 64.9), (3.136, 68.5), (3.221, 72.1),
          (3.264, 86.5), (3.306, -18.0), (3.37, 169.4), (3.413, 43.2), (3.477, 86.5), (3.519, -14.4), (3.562, 68.5),
          (3.605, -28.8), (3.668, 43.2), (3.732, -10.8), (3.796, 140.5), (3.86, 115.3), (3.903, 169.4),
          (3.945, 122.5), (4.009, 191.0), (4.052, 108.1), (4.116, 133.3), (4.158, 182.0), (4.201, 133.3),
          (4.244, 136.9), (4.286, 86.5), (4.372, 82.9), (4.457, 75.7), (4.542, 68.5), (4.627, 64.9), (4.712, 36.0),
          (4.755, -10.8), (4.798, 79.3), (4.84, 169.4), (4.883, 223.4), (4.925, 133.3), (4.96, -86.5),
          (4.989, 151.4), (5.032, 61.3), (5.075, 115.3), (5.138, 151.4), (5.181, 61.3), (5.266, 72.1),
          (5.352, 50.5), (5.437, 57.7), (5.522, 28.8), (5.607, 21.6), (5.692, 36.0), (5.778, 46.8), (5.863, 50.5),
          (5.896, 46.8), (5.939, 43.2), (5.981, 82.9), (6.045, 54.1), (6.131, 90.1), (6.173, 61.3), (6.237, 64.9),
          (6.323, 57.7), (6.408, 52.3), (6.536, 46.8), (6.664, 43.2), (6.75, 41.4), (6.878, 54.1), (7.006, 57.7),
          (7.134, 54.1), (7.262, 46.8), (7.39, 45.0), (7.518, 43.2), (7.646, 37.8), (7.731, 39.6), (7.795, 54.1),
          (7.945, 54.1), (8.03, 64.9), (8.073, 88.3), (8.115, 68.5), (8.2, 57.7), (8.286, 54.1), (8.371, 46.8),
          (8.5, 45.0), (8.628, 43.2), (8.756, 41.4), (8.884, 46.8), (8.99, 63.1), (9.054, 50.5), (9.182, 46.8),
          (9.268, 54.1), (9.31, 86.5), (9.353, 36.0), (9.396, 79.3), (9.417, 136.9), (9.46, 57.7), (9.524, 43.2),
          (9.652, 45.0), (9.78, 46.8), (9.908, 52.3), (10.079, 46.8), (10.164, 43.2), (10.249, 36.0),
          (10.335, 43.2), (10.463, 45.0), (10.591, 43.2), (10.762, 43.2), (10.89, 45.0), (11.018, 50.5),
          (11.06, 57.7), (11.188, 50.5), (11.274, 43.2), (11.402, 43.2), (11.53, 43.2), (11.658, 41.4),
          (11.786, 45.0), (11.871, 32.4), (11.935, 54.1), (12.0, 50.5)]

hn_pts = [(0, -1.8), (0.068, 1.8), (0.153, 9.0), (0.239, 5.4), (0.324, 7.2), (0.452, 5.4), (0.579, 5.4),
          (0.707, 3.6), (0.814, -3.6), (0.878, -9.0), (0.942, -3.6), (0.984, 14.4), (1.048, 32.4), (1.091, 21.6),
          (1.176, 28.8), (1.261, 18.0), (1.346, 21.6), (1.41, 25.2), (1.474, 7.2), (1.602, 5.4), (1.73, 0.0),
          (1.858, -1.8), (1.986, -0.7), (2.092, 0.0), (2.156, 39.6), (2.241, 57.7), (2.326, 32.4), (2.39, 21.6),
          (2.454, 7.2), (2.582, 7.2), (2.71, 3.6), (2.838, 0.0), (2.965, -1.8), (3.051, -10.8), (3.093, -21.6),
          (3.136, 7.2), (3.2, 18.0), (3.264, 43.2), (3.306, -28.8), (3.349, 72.1), (3.413, 7.2), (3.455, 82.9),
          (3.498, -36.0), (3.541, -100.9), (3.583, -173.0), (3.613, -64.9), (3.647, -216.2), (3.681, -100.9),
          (3.711, -191.0), (3.754, -46.8), (3.796, 61.3), (3.839, 0.0), (3.882, -46.8), (3.924, 43.2),
          (3.967, -10.8), (4.009, -57.7), (4.052, 7.2), (4.116, 14.4), (4.18, 0.0), (4.244, -10.8), (4.329, 3.6),
          (4.414, 7.2), (4.499, 10.8), (4.585, 9.0), (4.67, 0.0), (4.712, 14.4), (4.755, 129.7), (4.798, -7.2),
          (4.84, -144.1), (4.874, -64.9), (4.925, 0.0), (4.968, -100.9), (5.011, 25.2), (5.053, 93.7),
          (5.096, -28.8), (5.138, 21.6), (5.224, 7.2), (5.309, 14.4), (5.394, 21.6), (5.458, 43.2), (5.501, -79.3),
          (5.522, 21.6), (5.607, 14.4), (5.692, 3.6), (5.778, -3.6), (5.863, -3.6), (5.896, -5.4), (5.981, 0.0),
          (6.067, -3.6), (6.118, 32.4), (6.152, 0.0), (6.195, 16.2), (6.28, 10.8), (6.365, 5.4), (6.494, 7.2),
          (6.622, 3.6), (6.75, -1.8), (6.878, -7.2), (6.984, -5.4), (7.048, 3.6), (7.104, 27.0), (7.155, 14.4),
          (7.262, 7.2), (7.39, 5.4), (7.518, 3.6), (7.646, 0.0), (7.774, -1.8), (7.902, -3.6), (8.009, -5.4),
          (8.073, 18.0), (8.137, 23.4), (8.2, 14.4), (8.286, 5.4), (8.414, 5.4), (8.542, 5.4), (8.67, 3.6),
          (8.798, 0.0), (8.926, -3.6), (9.012, -3.6), (9.14, 7.2), (9.225, 19.8), (9.289, 10.8), (9.332, -10.8),
          (9.374, 21.6), (9.417, -34.2), (9.46, 14.4), (9.567, 7.2), (9.695, 3.6), (9.823, 0.0), (9.951, -1.8),
          (10.079, 1.8), (10.207, 5.4), (10.335, 3.6), (10.463, 5.4), (10.591, 3.6), (10.762, 0.0), (10.932, -3.6),
          (11.018, 3.6), (11.146, 14.4), (11.231, 16.2), (11.316, 3.6), (11.444, 5.4), (11.615, 5.4),
          (11.743, 3.6), (11.828, -1.8), (11.871, -12.6), (11.935, -1.8), (11.978, 7.2)]

# observing sites (east longitude) used for local midnight / noon markers
lon_goes12 = -75.5
lon_goes11 = -107.7
lon_moscow = 37.3


def split(pts):
    a = np.array(pts, dtype=float)
    return a[:, 0], a[:, 1]


fig = plt.figure(figsize=(24.02, 18.46), dpi=100)
L, W = 141 / 2402, 2155 / 2402
ax1 = fig.add_axes([L, 0.6885, W, 0.2002])
ax2 = fig.add_axes([L, 0.4816, W, 0.2004])
ax3 = fig.add_axes([L, 0.2746, W, 0.1999])
ax4 = fig.add_axes([L, 0.0704, W, 0.1977])
axes = [ax1, ax2, ax3, ax4]

blue = '#3a3aff'
head_size = 22.4

# day ticks carry labels, half-day ticks are long but unlabelled
half_day_ticks = np.arange(0, 12.01, 0.5)
half_day_labels = [day_labels[int(d)] if d == int(d) else '' for d in half_day_ticks]


def frame(ax):
    ax.set_xlim(0, 12)
    ax.xaxis.set_major_locator(FixedLocator(half_day_ticks))
    ax.xaxis.set_major_formatter(FixedFormatter(half_day_labels))
    ax.xaxis.set_minor_locator(MultipleLocator(0.25))
    ax.tick_params(axis='x', which='major', direction='in', top=True, bottom=True, length=14,
                   width=1.2, color='#444444', labelbottom=False, labelsize=18)
    ax.tick_params(axis='x', which='minor', direction='in', top=True, bottom=True, length=7,
                   width=1.2, color='#444444')
    ax.tick_params(axis='y', which='major', direction='out', left=True, right=True, length=16,
                   width=1.2, color='#444444', labelsize=17, pad=2)
    ax.tick_params(axis='y', which='minor', direction='out', left=True, right=True, length=8,
                   width=1.2, color='#444444')
    for d in range(1, 12):
        ax.axvline(d, color='#b4b4b4', lw=1.2, zorder=0.5)
    for d in np.arange(0.5, 12, 1.0):
        ax.axvline(d, color='#c8c8c8', lw=1.0, ls=(0, (5, 5)), zorder=0.5)
    ax.spines['top'].set(color='black', lw=2)
    ax.spines['bottom'].set(color='#8c8c8c', lw=2)
    ax.spines['left'].set(color='#9a9a9a', lw=1.2)
    ax.spines['right'].set(color='#9a9a9a', lw=1.2)


def nudge_end_labels(ax):
    # the end labels sit just inside the panel, as in the original layout
    labels = ax.yaxis.get_majorticklabels()
    labels[0].set_va('bottom')
    labels[-1].set_va('top')


def hgrid(ax, levels):
    for v in levels:
        ax.axhline(v, color='#bdbdbd', lw=1.3, ls=(0, (1.5, 3)), zorder=0.5)


def local_time_marks(ax, lon):
    midnight = ((-lon / 15.0) % 24.0) / 24.0
    nights = np.arange(midnight, 12.0, 1.0)
    noons = np.arange((midnight + 0.5) % 1.0, 12.0, 1.0)
    tr = ax.get_xaxis_transform()
    ax.plot(nights, np.zeros_like(nights), 'o', ms=6.8, mfc='black', mec='black', transform=tr,
            clip_on=False, zorder=6)
    ax.plot(noons, np.zeros_like(noons), 'o', ms=6.8, mfc='white', mec='black', mew=1.1, transform=tr,
            clip_on=False, zorder=6)


def color_text(ax, x, y, pieces, size=head_size):
    t = ax.text(x, y, pieces[0][0], color=pieces[0][1], transform=ax.transAxes, fontsize=size,
                va='center', ha='left', zorder=7)
    for s, c in pieces[1:]:
        t = ax.annotate(s, xy=(1, 0), xycoords=t, xytext=(0, 0), textcoords='offset points',
                        color=c, fontsize=size, va='bottom', ha='left', zorder=7)
    return t


def ylab(ax, text, xpos):
    ax.set_ylabel(text, fontsize=18, family='DejaVu Sans')
    ax.yaxis.set_label_coords(xpos, 0.5)


for ax in axes:
    frame(ax)

# ---------- panel 1: X-rays ----------
ax1.set_yscale('log')
ax1.set_ylim(1e-10, 1e-2)
ax1.yaxis.set_major_locator(FixedLocator([1e-10, 1e-8, 1e-6, 1e-4, 1e-2]))
ax1.yaxis.set_minor_locator(FixedLocator([1e-9, 1e-7, 1e-5, 1e-3]))
ax1.yaxis.set_major_formatter(LogFormatterSciNotation())
ax1.yaxis.set_minor_formatter(NullFormatter())
hgrid(ax1, [1e-8])
for name, f, c in zip(flare_names, flare_flux, [blue, '#d070e0', '#66f066']):
    ax1.axhline(f, color=c, lw=1.6, zorder=1)
    ax1.text(1.0065, f, name, transform=ax1.get_yaxis_transform(), fontsize=13, va='bottom', ha='left')
t, v = split(xs_pts)
ax1.plot(t, 10 ** v, color='#ff0000', lw=1.4, zorder=2)
t, v = split(xl_pts)
ax1.plot(t, 10 ** v, color='black', lw=1.6, zorder=3)
ylab(ax1, r'Watts/m$^2$', -0.043)
local_time_marks(ax1, lon_goes12)
color_text(ax1, 0.0102, 0.92, [('GOES-12 X-rays  1-min: XL(0.1-0.8 nm),  ', 'black'),
                               ('XS(0.05-0.3 nm)', '#ff0000'), ('  (75.5° W )', 'black')])
ax1.tick_params(axis='x', labeltop=True, pad=10)

# ---------- panel 2: protons ----------
ax2.set_yscale('log')
ax2.set_ylim(1e-4, 1e6)
ax2.yaxis.set_major_locator(FixedLocator([1e-4, 1e-2, 1e0, 1e2, 1e4, 1e6]))
ax2.yaxis.set_minor_locator(FixedLocator([1e-3, 1e-1, 1e1, 1e3, 1e5]))
ax2.yaxis.set_major_formatter(LogFormatterSciNotation())
ax2.yaxis.set_minor_formatter(NullFormatter())
hgrid(ax2, [1e-2, 1e0, 1e2, 1e4])
ax2.axhline(event_level, color=blue, lw=1.6, zorder=1)
ax2.text(1.0065, event_level, 'Event', transform=ax2.get_yaxis_transform(), fontsize=13,
         color='#33dd33', va='bottom', ha='left')
series = [p1_pts, p2_pts, p3_pts, p4_pts, p5_pts, p6_pts, p7_pts]
noise = [p1_noise, p2_noise, p3_noise, p4_noise, p5_noise, p6_noise, p7_noise]
for k in range(len(series) - 1, -1, -1):
    z = 2 + (7 - k) * 0.02
    for seg in noise[k]:
        a = np.array(seg, dtype=float)
        ax2.fill_between(a[:, 0], 10 ** a[:, 1], 10 ** a[:, 2], color=proton_colors[k], lw=0,
                         alpha=noise_alpha[k], zorder=z)
    t, v = split(series[k])
    ax2.plot(t, 10 ** v, color=proton_colors[k], lw=1.6, zorder=z + 0.01)
ylab(ax2, r'p$^{+}$/(cm$^2$ s sr)', -0.037)
local_time_marks(ax2, lon_goes11)
color_text(ax2, 0.0102, 0.92, [('GOES-11  Protons 5-min: P1(> 1 MeV)ic,', 'black'),
                               (' P2(> 5 MeV)ic', proton_colors[1]), (', ', 'black'),
                               ('P3(> 10 MeV)ic', proton_colors[2]), (', ', 'black'),
                               ('P4(> 30 MeV)ic', proton_colors[3]), (', ', 'black'),
                               ('P5(> 50 MeV)ic', proton_colors[4]), (', ', 'black'),
                               ('P6(> 60 MeV)ic', proton_colors[5]), (', ', 'black'),
                               ('P7(> 100 MeV)ic', proton_colors[6]), ('  (107.7° W )', 'black')])

# ---------- panel 3: cosmic rays ----------
ax3.set_ylim(-20, 20)
ax3.yaxis.set_major_locator(FixedLocator([-20, -10, 0, 10, 20]))
ax3.yaxis.set_minor_locator(MultipleLocator(1))
hgrid(ax3, [-10, 10])
t, v = split(cr_pts)
ax3.fill_between(t, 0, v, color='#5a5a5a', lw=0, zorder=2)
ax3.plot(t, v, color='#5a5a5a', lw=1.0, zorder=2)
ax3.axhline(tin_hat, color=blue, lw=1.6, zorder=3)
ax3.text(1.0065, tin_hat, 'Tin Hat', transform=ax3.get_yaxis_transform(), fontsize=13,
         va='bottom', ha='left')
ylab(ax3, '% of Baseline (7870)', -0.036)
local_time_marks(ax3, lon_moscow)
color_text(ax3, 0.0102, 0.924, [('Moscow - Cosmic Rays, R=2.46,  5-min: Neutrons Pressure Corr.  (37.3° E )',
                                 'black')])

# ---------- panel 4: magnetometer ----------
ax4.set_ylim(-200, 200)
ax4.yaxis.set_major_locator(FixedLocator([-200, -100, 0, 100, 200]))
ax4.yaxis.set_minor_locator(MultipleLocator(10))
hgrid(ax4, [-100, 100])
ax4.axhline(0, color=blue, lw=1.6, zorder=1)
for pts, c, z in [(hp_pts, 'black', 2), (he_pts, '#ff0000', 3), (hn_pts, '#00ee00', 4)]:
    t, v = split(pts)
    ax4.plot(t, v, color=c, lw=1.6, zorder=z, clip_on=False)
ylab(ax4, 'nT', -0.043)
local_time_marks(ax4, lon_goes12)
color_text(ax4, 0.0102, 0.075, [('GOES-12 Magnetometer  1-min: Hp, ', 'black'), ('He', '#ff0000'),
                                (', ', 'black'), ('Hn (East)', '#00ee00'), ('  (75.5° W )', 'black')])
ax4.tick_params(axis='x', labelbottom=True, pad=12)

for ax in axes:
    nudge_end_labels(ax)

# panel frame lines that run past the spines
for ax in axes:
    pos = ax.get_position()
    fig.add_artist(Line2D([122 / 2402, 2313 / 2402], [pos.y1, pos.y1], transform=fig.transFigure,
                          color='black', lw=2))
    fig.add_artist(Line2D([122 / 2402, 2313 / 2402], [pos.y0, pos.y0], transform=fig.transFigure,
                          color='#8c8c8c', lw=2))

# month labels, title and axis title
top_tr = blended_transform_factory(ax1.transData, fig.transFigure)
bot_tr = blended_transform_factory(ax4.transData, fig.transFigure)
ax1.text(0, 1 - 154 / 1846, '2003 Oct', transform=top_tr, fontsize=25, ha='center', va='center')
ax1.text(6, 1 - 154 / 1846, 'Nov', transform=top_tr, fontsize=25, ha='center', va='center')
ax4.text(0, 1 - 1778 / 1846, '2003 Oct', transform=bot_tr, fontsize=25, ha='center', va='center')
ax4.text(6, 1 - 1778 / 1846, 'Nov', transform=bot_tr, fontsize=25, ha='center', va='center')
fig.text(1219 / 2402, 1 - 1826 / 1846, 'Universal Time', fontsize=32, ha='center', va='center')
ax1.text(1219 / 2402, 1 - 97 / 1846, 'Extreme Event: 2003-10-26 00h - 2003-11-06 24h',
         transform=fig.transFigure, fontsize=41.5, ha='center', va='center', zorder=8)

# red arrows pointing at the big flares
arrow_top = [0.970, 0.972, 0.995, 0.989, 0.982, 0.968, 0.970, 0.989]
for ta, tip, top in zip(arrow_t, arrow_tip_log, arrow_top):
    ax1.annotate('', xy=(ta, 10 ** tip), xycoords='data', xytext=(ta, top),
                 textcoords=('data', 'figure fraction'), annotation_clip=False, zorder=20,
                 arrowprops=dict(arrowstyle='simple,head_length=35,head_width=24,tail_width=5.5',
                                 color='#ff0000', lw=0, shrinkA=0, shrinkB=0, mutation_scale=1))

fig.savefig('out.png', dpi=100)
